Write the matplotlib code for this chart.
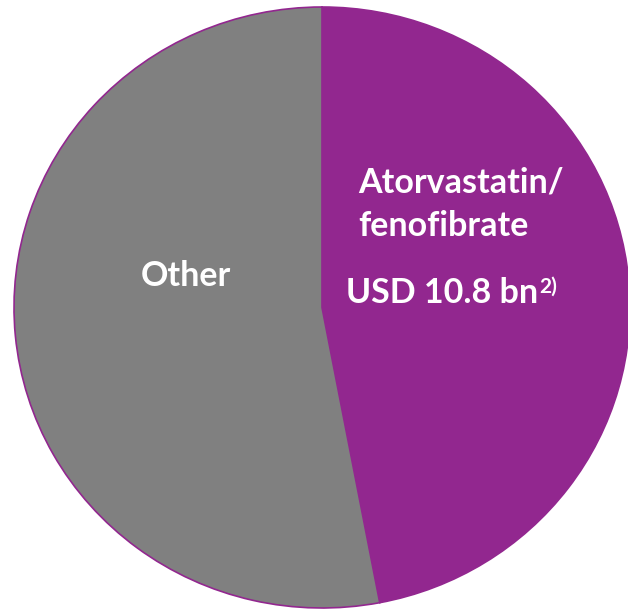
import matplotlib.pyplot as plt

labels = ["Atorvastatin/", "fenofibrate", "Other"]
shares = [47, 53]
value_label = "USD 10.8 bn"
footnote = "2)"
colors = ["#92278F", "#808080"]

W, H = 628, 609
fig = plt.figure(figsize=(W / 100, H / 100), dpi=100)
ax = fig.add_axes([0, 0, 1, 1])

ax.pie(shares, colors=colors, startangle=90, counterclock=False,
       wedgeprops=dict(edgecolor="#92278F", linewidth=1.2))

# unit circle stretched a bit wider than tall, right side runs off the canvas
cx, cy, rx, ry = 322, 307.5, 308, 300.5
ax.set_aspect("auto")
ax.set_xlim(-cx / rx, (W - cx) / rx)
ax.set_ylim(-(H - cy) / ry, cy / ry)
ax.axis("off")


def px(x, y):
    return (x - cx) / rx, (cy - y) / ry


font = dict(family="Lato", weight="bold", color="white", fontsize=24.5)

ax.text(*px(186, 276), labels[2], ha="center", va="center", **font)
ax.text(*px(358, 193), labels[0], ha="left", va="baseline", **font)
ax.text(*px(358, 236), labels[1], ha="left", va="baseline", **font)
t = ax.text(*px(346, 303), value_label, ha="left", va="baseline", **font)

# footnote marker set as superscript right after the value
fig.canvas.draw()
bb = t.get_window_extent()
ax.annotate(footnote, xy=(bb.x1, bb.y0), xycoords="figure pixels",
            xytext=(0.5, 12), textcoords="offset points",
            ha="left", va="baseline", family="Lato", weight="bold",
            color="white", fontsize=15)

fig.savefig("out.png", dpi=100)
